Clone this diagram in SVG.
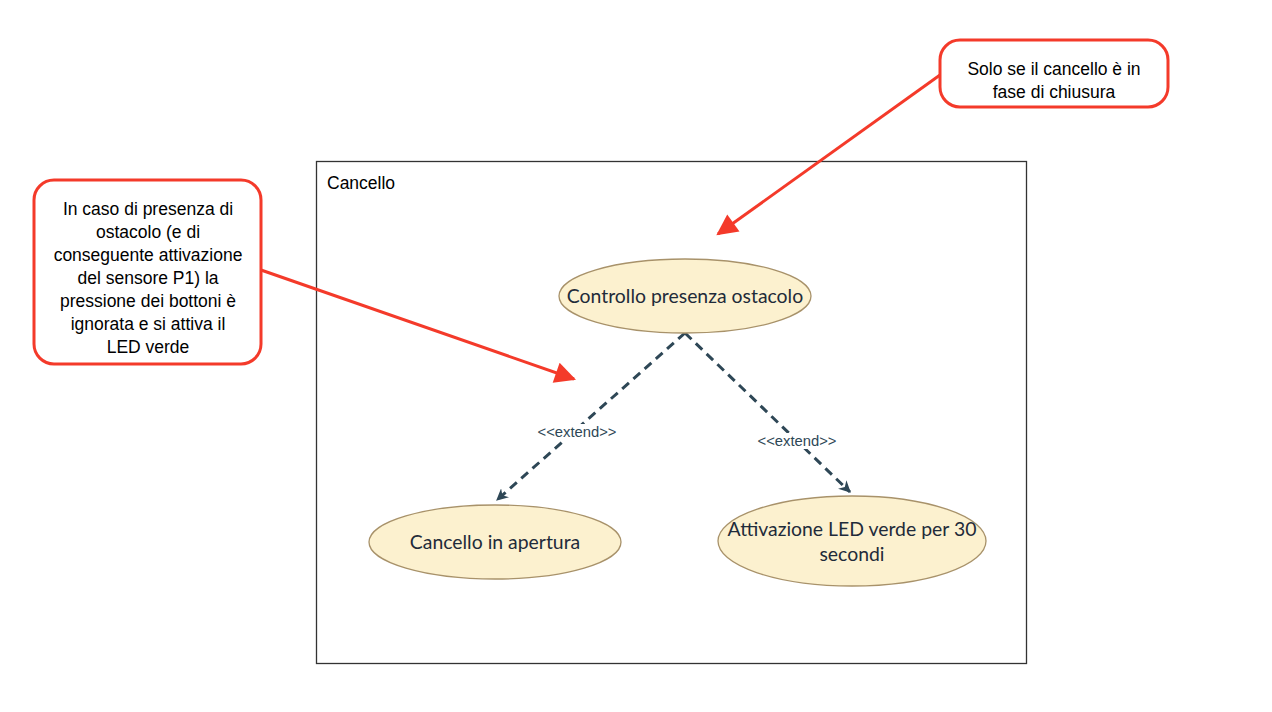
<svg xmlns="http://www.w3.org/2000/svg" width="1272" height="712" viewBox="0 0 1272 712">
<style>
.uc{fill:#fcf1cf;stroke:#a8926a;stroke-width:1.3}
.uct{font-family:Lato,"Liberation Sans",sans-serif;font-size:19.4px;fill:#1f2b3a;text-anchor:middle}
.note{fill:#fff;stroke:#f43a2a;stroke-width:3}
.nt{font-family:"Liberation Sans",Arial,sans-serif;font-size:17.5px;fill:#000;text-anchor:middle}
.ext{stroke:#2e4756;stroke-width:3;stroke-dasharray:9 6;fill:none}
.red{stroke:#f43a2a;stroke-width:3;fill:none}
.lbl{font-family:"Liberation Sans",Arial,sans-serif;font-size:14.8px;fill:#2e4756;text-anchor:middle}
</style>
<defs>
<marker id="ah" viewBox="0 0 10 10" refX="9" refY="5" markerWidth="4" markerHeight="4" markerUnits="strokeWidth" orient="auto"><path d="M0,0 L10,5 L0,10 L3,5 z" fill="#2e4756"/></marker>
<marker id="rh" viewBox="0 0 10 10" refX="9" refY="5" markerWidth="8" markerHeight="7" markerUnits="strokeWidth" orient="auto"><path d="M0,0 L10,5 L0,10 z" fill="#f43a2a"/></marker>
</defs>
<rect width="1272" height="712" fill="#fff"/>
<g id="frame">
<rect x="316.5" y="161.5" width="710" height="502" fill="none" stroke="#333" stroke-width="1.3"/>
<text x="327" y="189" font-family="Liberation Sans,Arial,sans-serif" font-size="17.5" fill="#000">Cancello</text>
</g>
<g id="connectors">
<path class="ext" d="M685,333 L497,500" marker-end="url(#ah)"/>
<path class="ext" d="M685,333 L850,492" marker-end="url(#ah)"/>
<rect x="536" y="424" width="82" height="16" fill="#fff"/>
<text class="lbl" x="577" y="437">&lt;&lt;extend&gt;&gt;</text>
<rect x="756" y="433" width="82" height="16" fill="#fff"/>
<text class="lbl" x="797" y="446">&lt;&lt;extend&gt;&gt;</text>
<path class="red" d="M940,75 L718,234" marker-end="url(#rh)"/>
<path class="red" d="M261,270 L574,379" marker-end="url(#rh)"/>
</g>
<g id="uc1">
<ellipse class="uc" cx="685" cy="296" rx="126" ry="37"/>
<text class="uct" x="685" y="303">Controllo presenza ostacolo</text>
</g>
<g id="uc2">
<ellipse class="uc" cx="495" cy="542" rx="126" ry="37"/>
<text class="uct" x="495" y="549">Cancello in apertura</text>
</g>
<g id="uc3">
<ellipse class="uc" cx="852" cy="541" rx="134" ry="45"/>
<text class="uct" x="852" y="536">Attivazione LED verde per 30</text>
<text class="uct" x="852" y="561">secondi</text>
</g>
<g id="note1">
<rect class="note" x="940" y="40" width="228" height="67" rx="20"/>
<text class="nt" x="1054" y="75">Solo se il cancello è in</text>
<text class="nt" x="1054" y="98">fase di chiusura</text>
</g>
<g id="note2">
<rect class="note" x="34" y="180" width="227" height="184" rx="20"/>
<text class="nt" x="148" y="215">In caso di presenza di</text>
<text class="nt" x="148" y="238">ostacolo (e di</text>
<text class="nt" x="148" y="261">conseguente attivazione</text>
<text class="nt" x="148" y="284">del sensore P1) la</text>
<text class="nt" x="148" y="307">pressione dei bottoni è</text>
<text class="nt" x="148" y="330">ignorata e si attiva il</text>
<text class="nt" x="148" y="353">LED verde</text>
</g>
</svg>
